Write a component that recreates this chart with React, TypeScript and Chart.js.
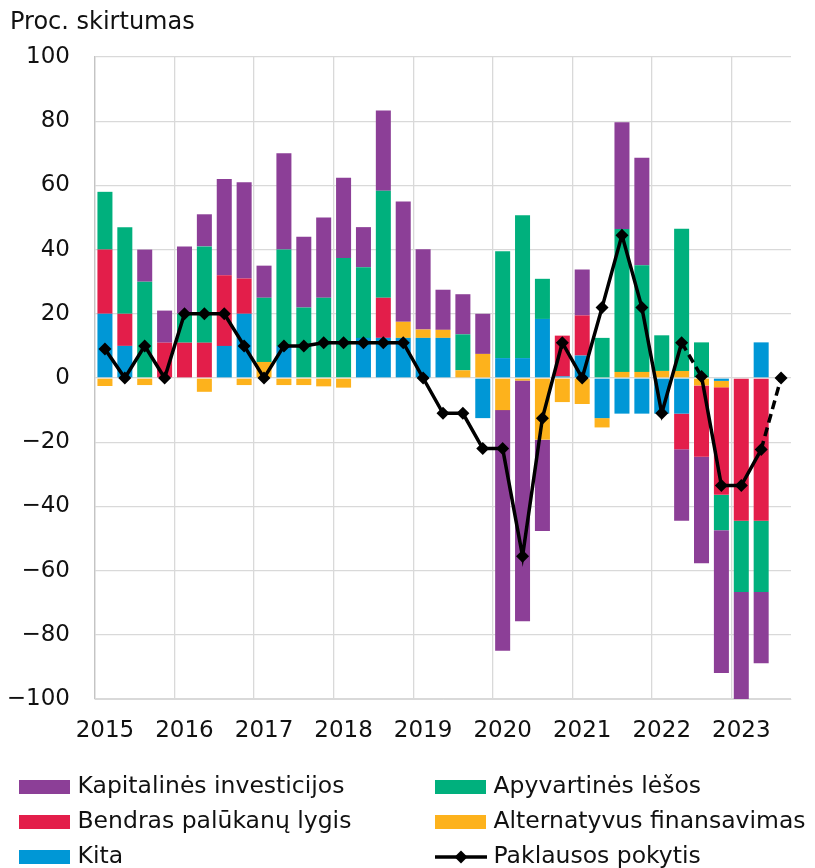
import { useEffect, useRef } from 'react';
import { Chart, registerables } from 'chart.js';

Chart.register(...registerables);

const categories = [
  '2015 I', '2015 II', '2015 III', '2015 IV',
  '2016 I', '2016 II', '2016 III', '2016 IV',
  '2017 I', '2017 II', '2017 III', '2017 IV',
  '2018 I', '2018 II', '2018 III', '2018 IV',
  '2019 I', '2019 II', '2019 III', '2019 IV',
  '2020 I', '2020 II', '2020 III', '2020 IV',
  '2021 I', '2021 II', '2021 III', '2021 IV',
  '2022 I', '2022 II', '2022 III', '2022 IV',
  '2023 I', '2023 II', '2023 III',
];

const yearLabels = ['2015', '2016', '2017', '2018', '2019', '2020', '2021', '2022', '2023'];

const kita = [
  20, 10, 0, 0, 0, 0, 10, 20,
  0, 10, 0, 0, 0, 12.5, 12.5, 12.5,
  12.5, 12.5, 0, -12.5, 6.2, 6.2, 18.4, 0.5,
  7, -12.5, -11.1, -11.1, -11.1, -11.1, 0, -0.9,
  0, 11.1, 0,
];

const alternatyvus = [
  -2.5, 0, -2.2, 0, 0, -4.3, 0, -2.2,
  5, -2.2, -2.2, -2.6, -3, 0, 0, 5,
  2.6, 2.5, 2.4, 7.5, -10, -0.8, -19.2, -7.5,
  -8.1, -2.9, 1.9, 1.9, 2.2, 2.2, -2.3, -2.0,
  0, 0, 0,
];

const bendras = [
  20, 10, 0, 11, 11, 11, 22, 11,
  0, 0, 0, 0, 0, 0, 12.5, 0,
  0, 0, 0, 0, 0, 0, 0, 12.7,
  12.5, 0, 0, 0, 0, -11.1, -22.2, -33.5,
  -44.5, -44.5, 0,
];

const apyvartines = [
  18, 27, 30, 0, 9, 30, 0, 0,
  20, 30, 22, 25, 37.4, 22, 33.3, 0,
  0, 0, 11.2, 0, 33.3, 44.5, 12.5, 0,
  0, 12.5, 44.5, 33.2, 11.1, 44.3, 11.1, -11,
  -22.2, -22.2, 0,
];

const kapitalines = [
  0, 0, 10, 10, 21, 10, 30, 30,
  10, 30, 22, 25, 25, 12.5, 25, 37.5,
  25, 12.5, 12.5, 12.5, -75, -75, -28.5, 0,
  14.3, 0, 33.3, 33.5, 0, -22.3, -33.2, -44.5,
  -33.3, -22.2, 0,
];

const paklausa = [
  9, 0, 10, 0, 20, 20, 20, 10,
  0, 10, 10, 11, 11, 11, 11, 11,
  0, -11, -11, -22, -22, -55.5, -12.5, 11,
  0, 22, 44.5, 22, -11, 11, 0.5, -33.5,
  -33.5, -22.3, 0,
];

// indexes of line segments drawn dashed (start point index)
const dashedSegmentStarts = [29, 33];

const PURPLE = '#8C3F97';
const RED = '#E31E4A';
const GREEN = '#00B07D';
const ORANGE = '#FDB21C';
const BLUE = '#0097D6';
const FONT = "'DejaVu Sans', Verdana, sans-serif";

const legendItems = [
  { label: 'Kapitalinės investicijos', color: PURPLE, kind: 'box' },
  { label: 'Apyvartinės lėšos', color: GREEN, kind: 'box' },
  { label: 'Bendras palūkanų lygis', color: RED, kind: 'box' },
  { label: 'Alternatyvus finansavimas', color: ORANGE, kind: 'box' },
  { label: 'Kita', color: BLUE, kind: 'box' },
  { label: 'Paklausos pokytis', color: '#000', kind: 'line' },
];

const decorPlugin = {
  id: 'decor',
  afterDraw(chart: any) {
    const ctx = chart.ctx as CanvasRenderingContext2D;
    ctx.save();
    // title
    ctx.fillStyle = '#111';
    ctx.font = `24px ${FONT}`;
    ctx.textAlign = 'left';
    ctx.textBaseline = 'alphabetic';
    ctx.fillText('Proc. skirtumas', 10, 28.5);

    // legend
    const colX = [19, 435];
    const rowY = [787, 822, 857];
    ctx.font = `23.5px ${FONT}`;
    ctx.textBaseline = 'middle';
    legendItems.forEach((it, i) => {
      const x = colX[i % 2];
      const y = rowY[Math.floor(i / 2)];
      if (it.kind === 'box') {
        ctx.fillStyle = it.color;
        ctx.fillRect(x, y - 7, 51, 14);
      } else {
        ctx.strokeStyle = it.color;
        ctx.lineWidth = 3.5;
        ctx.beginPath();
        ctx.moveTo(x, y);
        ctx.lineTo(x + 52, y);
        ctx.stroke();
        ctx.fillStyle = it.color;
        ctx.beginPath();
        const cx = x + 26;
        ctx.moveTo(cx, y - 6.5);
        ctx.lineTo(cx + 6.5, y);
        ctx.lineTo(cx, y + 6.5);
        ctx.lineTo(cx - 6.5, y);
        ctx.closePath();
        ctx.fill();
      }
      ctx.fillStyle = '#111';
      ctx.fillText(it.label, x + 58.5, y);
    });
    ctx.restore();
  },
};

export default function App() {
  const ref = useRef<HTMLCanvasElement>(null);

  useEffect(() => {
    const barDs = (label: string, data: number[], color: string) => ({
      type: 'bar' as const,
      label,
      data,
      backgroundColor: color,
      borderWidth: 0,
      order: 1,
      stack: 'bars',
      categoryPercentage: 1,
      barPercentage: 0.755,
    });

    const chart = new Chart(ref.current!, {
      type: 'bar',
      data: {
        labels: categories,
        datasets: [
          barDs('Kita', kita, BLUE),
          barDs('Alternatyvus finansavimas', alternatyvus, ORANGE),
          barDs('Bendras palūkanų lygis', bendras, RED),
          barDs('Apyvartinės lėšos', apyvartines, GREEN),
          barDs('Kapitalinės investicijos', kapitalines, PURPLE),
          {
            type: 'line' as const,
            label: 'Paklausos pokytis',
            data: paklausa,
            borderColor: '#000',
            backgroundColor: '#000',
            borderWidth: 3.5,
            pointStyle: 'rectRot',
            pointRadius: 6.5,
            pointBorderWidth: 0,
            pointBackgroundColor: '#000',
            tension: 0,
            order: 0,
            stack: 'line',
            segment: {
              borderDash: (c: any) => (dashedSegmentStarts.includes(c.p0DataIndex) ? [9, 5] : undefined),
            },
          } as any,
        ],
      },
      options: {
        animation: false,
        responsive: true,
        maintainAspectRatio: false,
        layout: { padding: { left: 0, right: 24, top: 57, bottom: 107 } },
        plugins: {
          legend: { display: false },
          tooltip: { enabled: false },
          title: { display: false },
        },
        scales: {
          x: {
            stacked: true,
            offset: true,
            afterFit: (s: any) => { s.height = 62; },
            grid: {
              offset: true,
              drawTicks: false,
              color: (c: any) => (c.index !== undefined && c.index % 4 === 0 ? '#d9d9d9' : 'rgba(0,0,0,0)'),
              lineWidth: 1.3,
            },
            border: { display: true, color: '#d9d9d9' },
            ticks: {
              autoSkip: false,
              maxRotation: 0,
              minRotation: 0,
              padding: 18,
              color: '#111',
              font: { family: FONT, size: 23 },
              callback: (_v: any, i: number) => (i % 4 === 0 ? yearLabels[i / 4] : ''),
            },
          },
          y: {
            stacked: true,
            min: -100,
            max: 100,
            afterFit: (s: any) => { s.width = 95; },
            grid: { color: '#d9d9d9', lineWidth: 1.3, drawTicks: false },
            border: { display: true, color: '#c4c4c4', width: 1.3 },
            ticks: {
              stepSize: 20,
              padding: 25,
              color: '#111',
              font: { family: FONT, size: 23 },
              callback: (v: any) => (Number(v) < 0 ? '\u2212' + Math.abs(Number(v)) : String(v)),
            },
          },
        },
      },
      plugins: [decorPlugin],
    });
    return () => chart.destroy();
  }, []);

  return (
    <div style={{ position: 'absolute', left: 0, top: 0, width: 815, height: 868, background: '#fff' }}>
      <canvas ref={ref} />
    </div>
  );
}
